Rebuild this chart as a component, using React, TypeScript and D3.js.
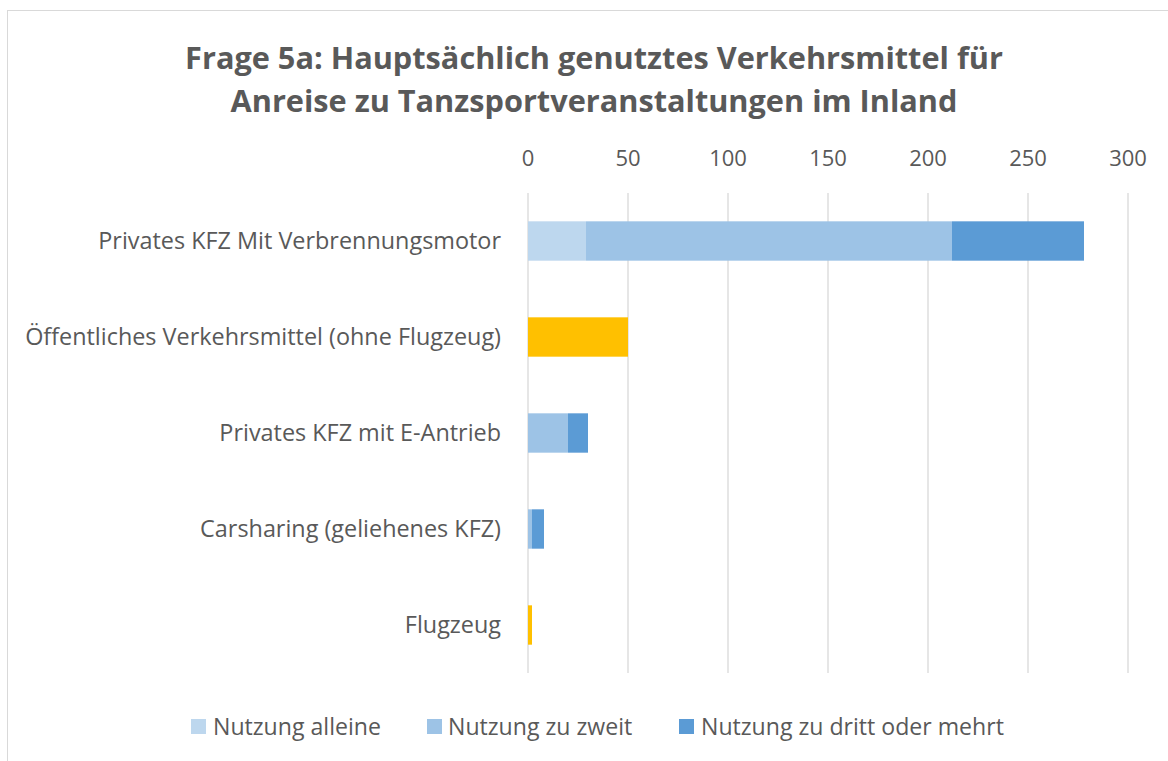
import React from "react";
import * as d3 from "d3";

const categories = [
  "Privates KFZ Mit Verbrennungsmotor",
  "Öffentliches Verkehrsmittel (ohne Flugzeug)",
  "Privates KFZ mit E-Antrieb",
  "Carsharing (geliehenes KFZ)",
  "Flugzeug",
];
const alleine = [29, 0, 0, 0, 0];
const zweit = [183, 0, 20, 2, 0];
const dritt = [66, 0, 10, 6, 0];
const sonstige = [0, 50, 0, 0, 2];
const seriesNames = ["Nutzung alleine", "Nutzung zu zweit", "Nutzung zu dritt oder mehrt", ""];
const seriesColors = ["#BDD7EE", "#9DC3E6", "#5B9BD5", "#FFC000"];
const xTicks = [0, 50, 100, 150, 200, 250, 300];
const titleLines = [
  "Frage 5a: Hauptsächlich genutztes Verkehrsmittel für",
  "Anreise zu Tanzsportveranstaltungen im Inland",
];

const FONT = "'Open Sans', sans-serif";
const TXT = "#595959";

export default function App() {
  const W = 1168, H = 761;
  const x = d3.scaleLinear().domain([0, 300]).range([528, 1128]);
  const y = d3.scaleBand<string>().domain(categories).range([193, 673]).paddingInner(0.59).paddingOuter(0.295);
  const rows = categories.map((c, i) => ({ cat: c, s0: alleine[i], s1: zweit[i], s2: dritt[i], s3: sonstige[i] }));
  const stack = d3.stack<any>().keys(["s0", "s1", "s2", "s3"])(rows);
  const legendX = [191, 427, 679];
  const legendTextX = [213, 448, 701];
  return (
    <svg width={W} height={H} style={{ position: "absolute", left: 0, top: 0, background: "#fff" }} fontFamily={FONT}>
      <rect x={0} y={0} width={W} height={H} fill="#fff" />
      <rect x={7.5} y={10.5} width={W + 20} height={H + 20} fill="none" stroke="#D9D9D9" strokeWidth={1} />
      {titleLines.map((t, i) => (
        <text key={i} x={594} y={69 + i * 43} textAnchor="middle" fontSize={30.7} fontWeight="bold" fill={TXT}>{t}</text>
      ))}
      {xTicks.map((t) => (
        <g key={t}>
          <line x1={x(t)} x2={x(t)} y1={193} y2={673} stroke="#D9D9D9" strokeWidth={1.3} />
          <text x={x(t)} y={166} textAnchor="middle" fontSize={22} fill={TXT}>{t}</text>
        </g>
      ))}
      {stack.map((layer, si) => (
        <g key={si} fill={seriesColors[si]}>
          {layer.map((d, i) => {
            const w = x(d[1]) - x(d[0]);
            if (w <= 0) return null;
            return <rect key={i} x={x(d[0])} y={y(categories[i])} width={w} height={y.bandwidth()} />;
          })}
        </g>
      ))}
      {categories.map((c) => (
        <text key={c} x={501} y={(y(c) as number) + y.bandwidth() / 2 + 8} textAnchor="end" fontSize={23.4} fill={TXT}>{c}</text>
      ))}
      {seriesNames.slice(0, 3).map((n, i) => (
        <g key={n}>
          <rect x={legendX[i]} y={719} width={15} height={15} fill={seriesColors[i]} />
          <text x={legendTextX[i]} y={735} fontSize={23.1} fill={TXT}>{n}</text>
        </g>
      ))}
    </svg>
  );
}
